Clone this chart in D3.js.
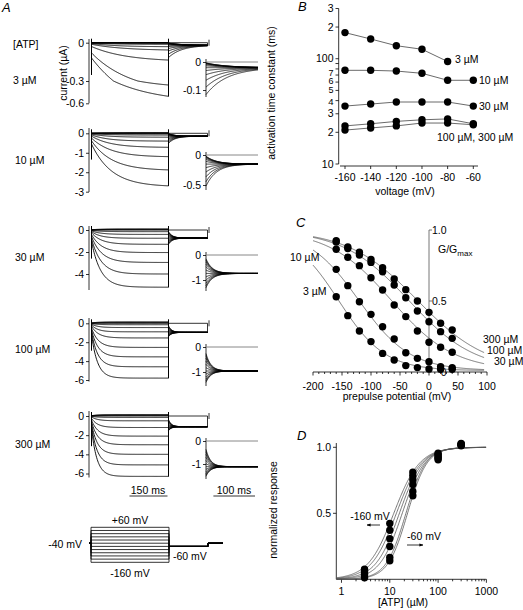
<!DOCTYPE html>
<html><head><meta charset="utf-8">
<script src="https://cdn.jsdelivr.net/npm/d3@7"></script>
<style>
body{margin:0;background:#fff}
svg{display:block}
text{font-family:"Liberation Sans",Arial,Helvetica,sans-serif;font-size:10.5px;fill:#000}
</style>
</head><body>
<svg id="c" width="523" height="610"></svg>
<script>
// ================= DATA =================
const atpLabels = ["3 µM", "10 µM", "30 µM", "100 µM", "300 µM"];
const stepVoltages = [-160, -140, -120, -100, -80, -60, -40, -20, 0, 20, 40, 60];
// Panel A: current at the end of the 300-ms step (µA), one per step voltage
const endCurrent3   = [-0.506, -0.354, -0.136, -0.057, -0.031, -0.013, -0.005, 0, 0, 0, 0, 0];
const endCurrent10  = [-2.7, -1.88, -1.2, -0.72, -0.4, -0.2, -0.09, -0.03, 0, 0.01, 0.02, 0.03];
const endCurrent30  = [-5.2, -4.0, -2.95, -2.05, -1.3, -0.75, -0.4, -0.15, 0, 0.03, 0.06, 0.1];
const endCurrent100 = [-5.8, -4.6, -3.55, -2.55, -1.55, -0.9, -0.45, -0.15, 0, 0.05, 0.1, 0.15];
const endCurrent300 = [-6.3, -5.1, -4.0, -3.0, -2.1, -1.2, -0.5, -0.15, 0, 0.05, 0.1, 0.15];
const tailScale   = [-0.22, -0.73, -1.53, -1.57, -1.68]; // tail current at G/Gmax = 1 (µA)
const tailTau     = [50, 25, 15, 12, 11];                 // tail relaxation (ms)
const instFraction = [0.2, 0.2, 0.2, 0.2, 0.2];
const pulseMs = 296, tailMs = 150, insetMs = 125;
const rowTicks   = [[0, -0.3, -0.6], [0, -1, -2, -3], [0, -2, -4], [0, -2, -4, -6], [0, -2, -4, -6]];
const insetTicks = [[0, -0.1], [0, -0.5], [0, -1], [0, -1], [0, -1]];
const scaleBarMain = 150, scaleBarInset = 100;

// Panel B: activation time constant (ms)
const bVoltage = [-160, -140, -120, -100, -80, -60];
const tau3   = [177, 154, 133, 123, 94, null];
const tau10  = [77.6, 77.6, 76.4, 72.7, 62.4, 62.4];
const tau30  = [35.5, 37.1, 38.8, 38.8, 38.8, 35.5];
const tau100 = [23.0, 24.1, 25.4, 26.3, 26.8, 24.1];
const tau300 = [21.0, 22.0, 23.0, 24.5, 24.5, 23.6];
const bSeriesLabels = ["3 µM", "10 µM", "30 µM", "100 µM, 300 µM"];
const bTickValues = [10, 20, 30, 40, 50, 60, 70, 80, 90, 100, 200, 300];
const bTickLabels = ["10", "2", "3", "4", "5", "6", "7", "", "", "100", "2", "3"];

// Panel C: G/Gmax vs prepulse potential
const cVoltage = [-160, -140, -120, -100, -80, -60, -40, -20, 0, 20, 40];
const cG3   = [0.530, 0.397, 0.289, 0.214, 0.131, 0.085, 0.045, 0.031, 0.021, 0.019, 0.019];
const cG10  = [0.723, 0.608, 0.495, 0.406, 0.319, 0.232, 0.136, 0.096, 0.073, 0.038, 0.031];
const cG30  = [0.864, 0.808, 0.749, 0.664, 0.577, 0.472, 0.390, 0.289, 0.209, 0.174, 0.139];
const cG100 = [0.915, 0.870, 0.824, 0.772, 0.706, 0.613, 0.523, 0.430, 0.354, 0.284, 0.237];
const cG300 = [0.925, 0.880, 0.843, 0.793, 0.735, 0.655, 0.580, 0.500, 0.420, 0.343, 0.296];
const cVhalf = [-156, -121, -65, -35, -20];
const cSlope = [40, 44, 54, 57, 60];
const cBase = 0.01;
const cXTicks = [-200, -150, -100, -50, 0, 50, 100];
const cYTicks = [0, 0.5, 1.0];

// Panel D: normalized response vs [ATP]
const dConc = [3, 10, 30, 100, 300];
const dVoltages = [-160, -140, -120, -100, -80, -60];
const dResp160 = [0.077, 0.423, 0.812, 0.955, 1.030];
const dResp140 = [0.065, 0.372, 0.787, 0.945, 1.025];
const dResp120 = [0.050, 0.308, 0.756, 0.935, 1.020];
const dResp100 = [0.040, 0.248, 0.718, 0.925, 1.018];
const dResp80  = [0.025, 0.166, 0.666, 0.915, 1.015];
const dResp60  = [0.012, 0.141, 0.633, 0.905, 1.012];
const dEC50 = [12.1, 13.7, 15.8, 18.1, 21.6, 23.3];
const dHill = [1.62, 1.67, 1.77, 1.86, 2.10, 2.14];
const dXTicks = [1, 10, 100, 1000];
const dYTicks = [0.5, 1.0];

// ================= DRAW =================
const svg = d3.select("#c");
const line = d3.line();
const defs = svg.append("defs");
defs.append("marker").attr("id", "ah").attr("viewBox", "0 0 10 10").attr("refX", 9).attr("refY", 5)
  .attr("markerWidth", 5).attr("markerHeight", 5).attr("orient", "auto-start-reverse")
  .append("path").attr("d", "M0,1.5 L10,5 L0,8.5 z").attr("fill", "#000");

function txt(g, x, y, s, anchor = "start", o = {}) {
  const t = g.append("text").attr("x", x).attr("y", y).attr("dy", "0.35em")
    .attr("text-anchor", anchor).text(s);
  if (o.size) t.style("font-size", o.size + "px");
  if (o.italic) t.style("font-style", "italic");
  if (o.rotate) t.attr("transform", `rotate(-90 ${x} ${y})`);
  return t;
}
function letter(x, y, s) {
  svg.append("text").attr("x", x).attr("y", y).style("font-size", "13px")
    .style("font-style", "italic").text(s);
}
function seg(g, x1, y1, x2, y2, col = "#000", w = 0.8) {
  return g.append("line").attr("x1", x1).attr("y1", y1).attr("x2", x2).attr("y2", y2)
    .attr("stroke", col).attr("stroke-width", w);
}

// ---------- Panel A ----------
const gA = svg.append("g");
letter(2, 12, "A");
const endSeries = [endCurrent3, endCurrent10, endCurrent30, endCurrent100, endCurrent300];
const tauSeries = [tau3, tau10, tau30, tau100, tau300];
const boltz = (v, ci) => cBase + (1 - cBase) / (1 + Math.exp((v - cVhalf[ci]) / cSlope[ci]));
function tauAt(ci, v) {
  const s = tauSeries[ci];
  let idx = bVoltage.indexOf(Math.min(v, -60));
  while (s[idx] == null) idx--;
  return s[idx];
}
const tX = d3.scaleLinear().domain([0, pulseMs]).range([91.5, 168.5]);
const tailX = d3.scaleLinear().domain([0, tailMs]).range([168.5, 207.5]);
const insetX = d3.scaleLinear().domain([0, insetMs]).range([206, 258]);
const rowY = [
  d3.scaleLinear().domain([0, -0.3, -0.6]).range([42.7, 81, 103.3]),
  d3.scaleLinear().domain([0, -3]).range([133.3, 191.7]),
  d3.scaleLinear().domain([0, -4]).range([230, 274]),
  d3.scaleLinear().domain([0, -6]).range([323.3, 380]),
  d3.scaleLinear().domain([0, -6]).range([416, 473.5])
];
const insetY = [
  d3.scaleLinear().domain([0, -0.1]).range([62, 90]),
  d3.scaleLinear().domain([0, -0.5]).range([155, 185]),
  d3.scaleLinear().domain([0, -1]).range([255, 280]),
  d3.scaleLinear().domain([0, -1]).range([347, 372]),
  d3.scaleLinear().domain([0, -1]).range([441, 464])
];
const axisSpan = [[39, 103.3], [128, 192], [226, 290], [318, 381.5], [411, 477.5]];
const insetSpan = [97, 190, 291, 386, 479];
const rowLabelY = [80, 160, 257, 349, 444];

txt(gA, 13, 44, "[ATP]");
txt(gA, 63.5, 73, "current (µA)", "middle", { rotate: true });

for (let ci = 0; ci < 5; ci++) {
  const y = rowY[ci], yi = insetY[ci];
  const g = gA.append("g");
  txt(g, ci === 0 ? 13 : 15, rowLabelY[ci], atpLabels[ci]);
  // main axis
  seg(g, 89, axisSpan[ci][0], 89, axisSpan[ci][1]);
  const ax = g.append("g").attr("transform", "translate(89,0)")
    .call(d3.axisLeft(y).tickValues(rowTicks[ci]).tickSize(3).tickPadding(2).tickFormat(d => String(d)));
  ax.select(".domain").remove();
  ax.selectAll("text").style("font-size", "10.5px").style("font-family", null);
  ax.selectAll("line").attr("stroke-width", 0.8);
  // inset axis
  seg(g, 206, yi(0) - 3, 206, insetSpan[ci]);
  const ai = g.append("g").attr("transform", "translate(206,0)")
    .call(d3.axisLeft(yi).tickValues(insetTicks[ci]).tickSize(3).tickPadding(2).tickFormat(d => String(d)));
  ai.select(".domain").remove();
  ai.selectAll("text").style("font-size", "10.5px").style("font-family", null);
  ai.selectAll("line").attr("stroke-width", 0.8);
  seg(g, 206, yi(0), 258, yi(0), "#888", 1);

  const gSS = boltz(-60, ci);
  const minEnd = d3.min(endSeries[ci]);
  stepVoltages.forEach((v, vi) => {
    const Iend = endSeries[ci][vi];
    const tau = tauAt(ci, v);
    const f = instFraction[ci];
    const Iinf = Iend / (f + (1 - f) * (1 - Math.exp(-pulseMs / tau)));
    const pts = [];
    for (let t = 0; t <= pulseMs; t += 2)
      pts.push([tX(t), y(Iinf * (f + (1 - f) * (1 - Math.exp(-t / tau))))]);
    const gPre = boltz(v, ci);
    const tail = t => tailScale[ci] * (gSS + (gPre - gSS) * Math.exp(-t / tailTau[ci]));
    for (let t = 0; t <= tailMs; t += 1.5) pts.push([tailX(t), y(tail(t))]);
    g.append("path").attr("d", line(pts)).attr("fill", "none")
      .attr("stroke", "#000").attr("stroke-width", 0.9);
    const ip = [];
    for (let t = 0; t <= insetMs; t += 1) ip.push([insetX(t), yi(tail(t))]);
    g.append("path").attr("d", line(ip)).attr("fill", "none")
      .attr("stroke", "#000").attr("stroke-width", 0.8);
  });
  // artifacts and end frame
  seg(g, tX(0), y(0) - 4, tX(0), y(minEnd * 0.5), "#000", 1);
  seg(g, tX(pulseMs), y(0) - 4, tX(pulseMs), y(minEnd), "#000", 1);
  seg(g, tailX(0), y(0), tailX(tailMs), y(0), "#000", 0.8);
  seg(g, tailX(tailMs), y(tailScale[ci] * gSS), tailX(tailMs), y(0), "#000", 0.8);
  seg(g, tailX(tailMs) + 1.5, y(0) - 3, tailX(tailMs) + 1.5, y(0) + 3, "#000", 0.8);
}
// scale bars
seg(gA, tX(pulseMs) - (tX(scaleBarMain) - tX(0)), 496, tX(pulseMs) - 1, 496);
txt(gA, 148, 490, "150 ms", "middle");
seg(gA, insetX(insetMs) - 3 - (insetX(scaleBarInset) - insetX(0)), 496, insetX(insetMs) - 3, 496);
txt(gA, 234, 490, "100 ms", "middle");

// protocol
const vY = d3.scaleLinear().domain([60, -160]).range([527.3, 562.3]);
stepVoltages.forEach(v => {
  const p = d3.path();
  p.moveTo(89, vY(-40)); p.lineTo(91, vY(-40)); p.lineTo(91, vY(v));
  p.lineTo(169, vY(v)); p.lineTo(169, vY(-60)); p.lineTo(208, vY(-60));
  p.lineTo(208, vY(-40)); p.lineTo(223, vY(-40));
  gA.append("path").attr("d", p.toString()).attr("fill", "none")
    .attr("stroke", "#000").attr("stroke-width", 0.8);
});
txt(gA, 130, 520, "+60 mV", "middle");
txt(gA, 82, 544, "-40 mV", "end");
txt(gA, 173, 556, "-60 mV", "start");
txt(gA, 130, 573, "-160 mV", "middle");

// ---------- Panel B ----------
const gB = svg.append("g");
letter(298, 11, "B");
const bx = d3.scaleLinear().domain([-160, -60]).range([345, 473.3]);
const by = d3.scaleLog().domain([10, 300]).range([164, 8.5]);
seg(gB, 338.7, by(300), 338.7, by(10));
bTickValues.forEach((v, i) => {
  seg(gB, 335.5, by(v), 338.7, by(v));
  if (bTickLabels[i]) {
    let dy = 0, size = null;
    if (v === 70) { dy = -2.5; size = 9; }
    if (v === 60) { dy = -1; size = 9; }
    if (v === 50) { dy = -0.5; size = 9; }
    if (v === 40) { dy = 1.5; size = 9.5; }
    const t = txt(gB, 333.5, by(v) + dy, bTickLabels[i], "end");
    if (size) t.style("font-size", size + "px");
  }
});
seg(gB, 340, 166, 478, 166);
bVoltage.forEach(v => {
  seg(gB, bx(v), 166, bx(v), 169);
  txt(gB, bx(v), 177.5, String(v), "middle");
});
txt(gB, 405, 191, "voltage (mV)", "middle");
txt(gB, 271.5, 93, "activation time constant (ms)", "middle", { rotate: true });
[tau3, tau10, tau30, tau100, tau300].forEach(s => {
  const pts = bVoltage.map((v, i) => [v, s[i]]).filter(d => d[1] != null);
  gB.append("path").attr("d", line(pts.map(d => [bx(d[0]), by(d[1])])))
    .attr("fill", "none").attr("stroke", "#444").attr("stroke-width", 0.8);
  gB.selectAll(null).data(pts).enter().append("circle")
    .attr("cx", d => bx(d[0])).attr("cy", d => by(d[1])).attr("r", 3.7).attr("fill", "#000");
});
txt(gB, 455, 59, bSeriesLabels[0]);
txt(gB, 479, 80, bSeriesLabels[1]);
txt(gB, 479, 106, bSeriesLabels[2]);
txt(gB, 437, 137, bSeriesLabels[3]);

// ---------- Panel C ----------
const gC = svg.append("g");
letter(296, 227, "C");
const cx = d3.scaleLinear().domain([-200, 100]).range([313, 487]);
const cy = d3.scaleLinear().domain([0, 1]).range([372, 230]);
seg(gC, cx(-200), cy(0), cx(100), cy(0));
d3.range(-200, 101, 10).forEach(v => {
  const major = v % 50 === 0;
  seg(gC, cx(v), cy(0), cx(v), cy(0) + (major ? 3.5 : 2));
});
cXTicks.forEach(v => txt(gC, cx(v), 386, String(v), "middle"));
txt(gC, 397, 396.5, "prepulse potential (mV)", "middle");
seg(gC, cx(0), cy(1), cx(0), cy(0), "#666", 0.9);
cYTicks.forEach(v => {
  seg(gC, cx(0), cy(v), cx(0) + 3, cy(v), "#666", 0.9);
  txt(gC, 446.5, cy(v), v === 0 ? "0" : v.toFixed(1), "end");
});
const gg = gC.append("text").attr("x", 438).attr("y", 249).attr("dy", "0.35em");
gg.append("tspan").text("G/G");
gg.append("tspan").attr("dy", "3").style("font-size", "8px").text("max");
const cSeries = [cG3, cG10, cG30, cG100, cG300];
const curveV = d3.range(-200, 96, 1);
cSeries.forEach((s, ci) => {
  gC.append("path").attr("d", line(curveV.map(v => [cx(v), cy(boltz(v, ci))])))
    .attr("fill", "none").attr("stroke", "#555").attr("stroke-width", 0.8);
});
cSeries.forEach(s => {
  gC.selectAll(null).data(s).enter().append("circle")
    .attr("cx", (d, i) => cx(cVoltage[i])).attr("cy", d => cy(d)).attr("r", 3.7).attr("fill", "#000");
});
txt(gC, 290, 257, "10 µM");
txt(gC, 303, 291.5, "3 µM");
txt(gC, 483, 339, "300 µM");
txt(gC, 487, 350, "100 µM");
txt(gC, 494, 361, "30 µM");

// ---------- Panel D ----------
const gD = svg.append("g");
letter(297, 440, "D");
const dx = d3.scaleLog().domain([0.8, 1000]).range([336.8, 486.4]);
const dy = d3.scaleLinear().domain([0, 1]).range([579.3, 447.3]);
seg(gD, 336.3, 443, 336.3, 579.3);
seg(gD, 336.3, 579.3, dx(1000), 579.3);
dYTicks.forEach(v => {
  seg(gD, 333, dy(v), 336.3, dy(v));
  txt(gD, 331, dy(v), v.toFixed(1), "end");
});
[1, 10, 100].forEach(dec => d3.range(1, 10).forEach(m => {
  const v = dec * m;
  seg(gD, dx(v), 579.3, dx(v), 579.3 + (m === 1 ? 3.5 : 2));
}));
seg(gD, dx(1000), 579.3, dx(1000), 582.8);
dXTicks.forEach(v => txt(gD, dx(v), 591.5, String(v), "middle"));
txt(gD, 403, 602.5, "[ATP] (µM)", "middle");
txt(gD, 273, 510, "normalized response", "middle", { rotate: true });
const curveC = d3.range(-0.097, 3.0001, 0.01).map(e => Math.pow(10, e));
dEC50.forEach((ec, i) => {
  gD.append("path").attr("d", line(curveC.map(c => {
    const r = Math.pow(c / ec, dHill[i]);
    return [dx(c), dy(r / (1 + r))];
  }))).attr("fill", "none").attr("stroke", "#555").attr("stroke-width", 0.8);
});
[dResp160, dResp140, dResp120, dResp100, dResp80, dResp60].forEach(s => {
  gD.selectAll(null).data(s).enter().append("circle")
    .attr("cx", (d, i) => dx(dConc[i])).attr("cy", d => dy(d)).attr("r", 3.7).attr("fill", "#000");
});
txt(gD, 370, 516, "-160 mV", "middle");
seg(gD, 380, 525, 367, 525).attr("marker-end", "url(#ah)");
txt(gD, 424, 536, "-60 mV", "middle");
seg(gD, 407, 545, 423, 545).attr("marker-end", "url(#ah)");
</script>
</body></html>
